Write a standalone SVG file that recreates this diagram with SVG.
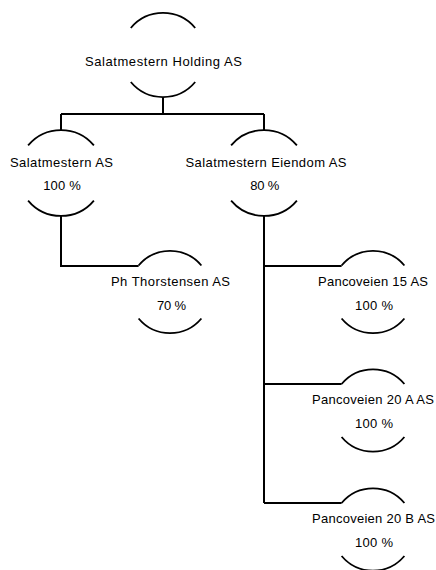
<svg xmlns="http://www.w3.org/2000/svg" width="436" height="570" viewBox="0 0 436 570">
<style>
.arc{fill:none;stroke:#000;stroke-width:1.8}
.con{fill:none;stroke:#000;stroke-width:2}
text{font-family:"Liberation Sans",Arial,sans-serif;font-size:13px;fill:#000;text-anchor:middle}
</style>
<rect width="436" height="570" fill="#fff"/>
<g id="connectors">
<path class="con" d="M163,97 V114 M61,114 H264 M61,114 V130 M264,114 V130"/>
<path class="con" d="M61,216 V266 H138.6"/>
<path class="con" d="M264,216 V503 M264,266 H341.6 M264,384 H341.6 M264,503 H341.6"/>
</g>
<g id="n-holding">
<path class="arc" d="M130.8,28 A42,42 0 0 1 195.2,28 M130.8,82 A42,42 0 0 0 195.2,82"/>
<text x="163.5" y="66" textLength="157" lengthAdjust="spacing">Salatmestern Holding AS</text>
</g>
<g id="n-salatmestern">
<path class="arc" d="M28.1,145.4 A43,43 0 0 1 93.9,145.4 M28.1,200.6 A43,43 0 0 0 93.9,200.6"/>
<text x="61.5" y="166.5" textLength="103" lengthAdjust="spacing">Salatmestern AS</text>
<text x="62" y="190" textLength="37.7" lengthAdjust="spacing">100 %</text>
</g>
<g id="n-eiendom">
<path class="arc" d="M231.1,145.4 A43,43 0 0 1 296.9,145.4 M231.1,200.6 A43,43 0 0 0 296.9,200.6"/>
<text x="266" y="166.5" textLength="161" lengthAdjust="spacing">Salatmestern Eiendom AS</text>
<text x="264.7" y="190" textLength="29" lengthAdjust="spacing">80 %</text>
</g>
<g id="n-thorstensen">
<path class="arc" d="M138.6,265.5 A41,41 0 0 1 201.4,265.5 M138.6,318.5 A41,41 0 0 0 201.4,318.5"/>
<text x="170.5" y="285.5" textLength="119" lengthAdjust="spacing">Ph Thorstensen AS</text>
<text x="171.5" y="309.5" textLength="29" lengthAdjust="spacing">70 %</text>
</g>
<g id="n-panco15">
<path class="arc" d="M341.6,265.5 A41,41 0 0 1 404.4,265.5 M341.6,318.5 A41,41 0 0 0 404.4,318.5"/>
<text x="373" y="285.5" textLength="110" lengthAdjust="spacing">Pancoveien 15 AS</text>
<text x="374" y="309.5" textLength="38" lengthAdjust="spacing">100 %</text>
</g>
<g id="n-panco20a">
<path class="arc" d="M341.6,384 A41,41 0 0 1 404.4,384 M341.6,437 A41,41 0 0 0 404.4,437"/>
<text x="373" y="404" textLength="122" lengthAdjust="spacing">Pancoveien 20 A AS</text>
<text x="374" y="428" textLength="38" lengthAdjust="spacing">100 %</text>
</g>
<g id="n-panco20b">
<path class="arc" d="M341.6,503 A41,41 0 0 1 404.4,503 M341.6,556 A41,41 0 0 0 404.4,556"/>
<text x="373.5" y="523" textLength="123" lengthAdjust="spacing">Pancoveien 20 B AS</text>
<text x="374" y="547" textLength="38" lengthAdjust="spacing">100 %</text>
</g>
</svg>
